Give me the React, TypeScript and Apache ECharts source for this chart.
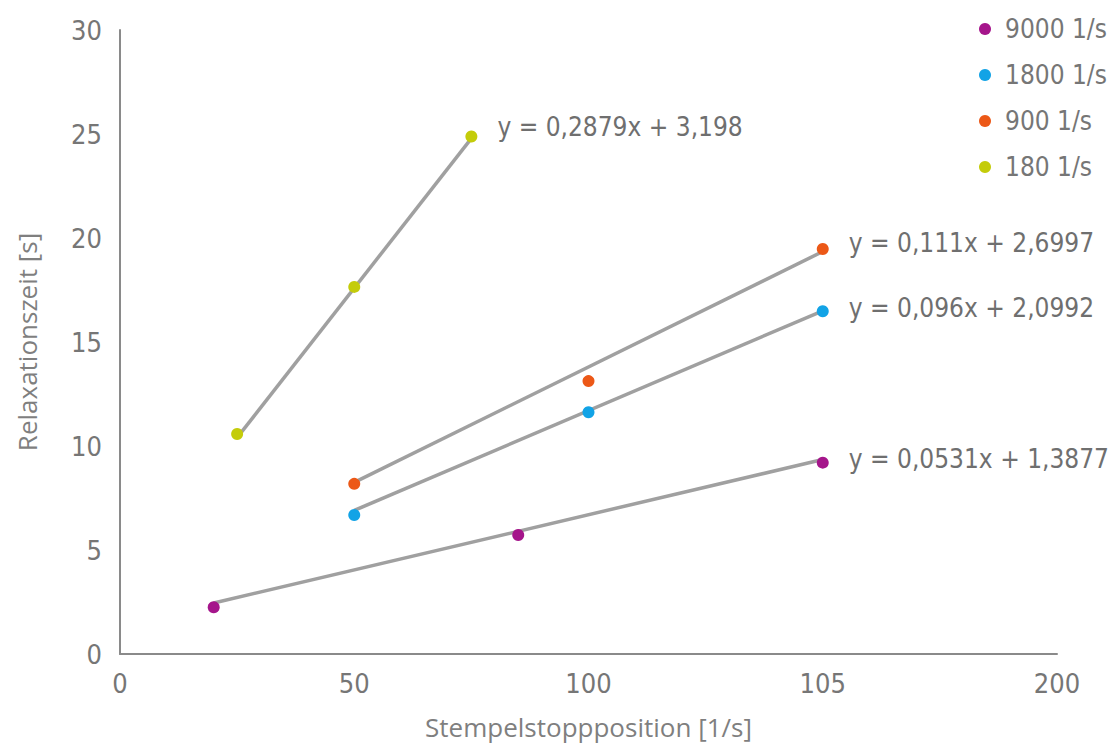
import React, { useEffect, useRef } from "react";
import * as echarts from "echarts";

const seriesNames = ["9000 1/s", "1800 1/s", "900 1/s", "180 1/s"];
const seriesColors = ["#A5158B", "#12A3E6", "#EC5817", "#C4CC0A"];
const pts9000 = [[20, 2.25], [85, 5.72], [150, 9.2]];
const pts1800 = [[50, 6.68], [100, 11.62], [150, 16.48]];
const pts900 = [[50, 8.18], [100, 13.12], [150, 19.47]];
const pts180 = [[25, 10.58], [50, 17.65], [75, 24.88]];
const trend9000 = [[20, 2.45], [150, 9.35]];
const trend1800 = [[50, 6.9], [150, 16.5]];
const trend900 = [[50, 8.25], [150, 19.35]];
const trend180 = [[25, 10.4], [75, 24.79]];
const equations = [
  "y = 0,0531x + 1,3877",
  "y = 0,096x + 2,0992",
  "y = 0,111x + 2,6997",
  "y = 0,2879x + 3,198",
];
const xTickLabels = ["0", "50", "100", "105", "200"];
const yTickStep = 5;

const FONT = "DejaVu Sans Condensed";
const TITLE_FONT = "Open Sans";
const TEXT = "#767676";

export default function App() {
  const ref = useRef<HTMLDivElement>(null);
  useEffect(() => {
    const chart = echarts.init(ref.current!, null, { renderer: "svg" });
    const allPts = [pts9000, pts1800, pts900, pts180];
    const trends = [trend9000, trend1800, trend900, trend180];
    const labelOffsets = [[0, -4], [0, -3], [0, -6], [0, -9]];
    const series: any[] = [];
    trends.forEach((t, i) => {
      series.push({
        type: "line",
        name: "trend" + i,
        data: t,
        symbol: "none",
        lineStyle: { color: "#A0A0A0", width: 3.5 },
        z: 1,
        silent: true,
      });
    });
    allPts.forEach((p, i) => {
      series.push({
        type: "scatter",
        name: seriesNames[i],
        symbolSize: 12,
        itemStyle: { color: seriesColors[i], opacity: 1 },
        z: 3,
        data: p.map((d, j) =>
          j === p.length - 1
            ? {
                value: d,
                label: {
                  show: true,
                  position: "right",
                  distance: 20,
                  offset: labelOffsets[i],
                  formatter: equations[i],
                  color: "#6f6f6f",
                  fontSize: 26,
                  fontFamily: FONT,
                },
              }
            : { value: d }
        ),
      });
    });
    chart.setOption({
      animation: false,
      textStyle: { fontFamily: FONT },
      grid: { left: 120, right: 59, top: 30, bottom: 90, containLabel: false },
      legend: {
        data: seriesNames,
        orient: "vertical",
        left: 974,
        top: 11,
        icon: "circle",
        itemWidth: 12,
        itemHeight: 12,
        itemGap: 20,
        textStyle: { color: TEXT, fontSize: 26, fontFamily: FONT, padding: [0, 0, 0, 9] },
      },
      xAxis: {
        type: "value",
        min: 0,
        max: 200,
        interval: 50,
        name: "Stempelstoppposition [1/s]",
        nameLocation: "middle",
        nameGap: 60,
        nameTextStyle: { color: "#7f7f7f", fontSize: 26, fontFamily: TITLE_FONT },
        axisLine: { show: true, lineStyle: { color: "#8a8a8a", width: 2 } },
        axisTick: { show: false },
        splitLine: { show: false },
        axisLabel: {
          color: TEXT,
          fontSize: 27,
          margin: 16,
          fontFamily: FONT,
          formatter: (v: number) => xTickLabels[Math.round(v / 50)] ?? "",
        },
      },
      yAxis: {
        type: "value",
        min: 0,
        max: 30,
        interval: yTickStep,
        name: "Relaxationszeit [s]",
        nameLocation: "middle",
        nameGap: 80,
        nameTextStyle: { color: "#7f7f7f", fontSize: 26, fontFamily: TITLE_FONT },
        axisLine: { show: true, lineStyle: { color: "#8a8a8a", width: 2 } },
        axisTick: { show: false },
        splitLine: { show: false },
        axisLabel: { color: TEXT, fontSize: 27, margin: 18, fontFamily: FONT },
      },
      series,
    });
    return () => chart.dispose();
  }, []);
  return (
    <div
      ref={ref}
      style={{ position: "fixed", left: 0, top: 0, width: 1116, height: 745, background: "#fff" }}
    />
  );
}
